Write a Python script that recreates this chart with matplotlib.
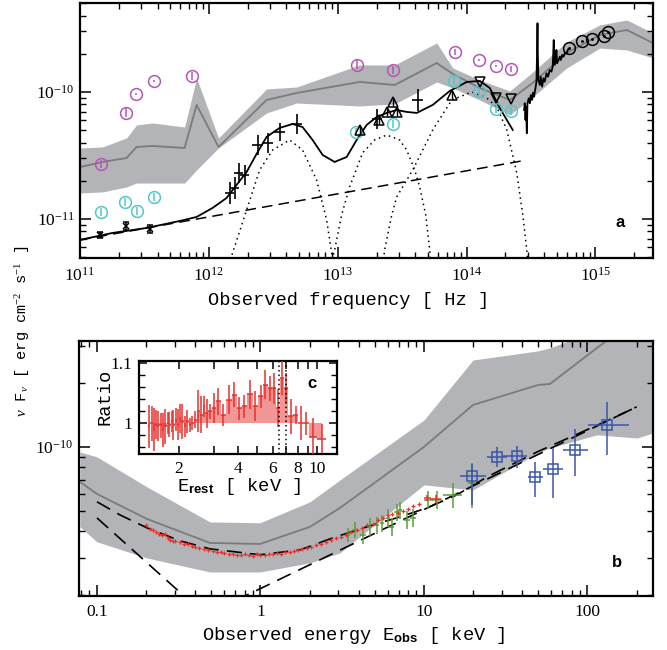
import numpy as np
import matplotlib
matplotlib.use('Agg')
import matplotlib.pyplot as plt
from matplotlib.ticker import LogLocator, FixedLocator, NullFormatter, FuncFormatter, MultipleLocator

plt.rcParams['font.family'] = 'Liberation Serif'
plt.rcParams['mathtext.fontset'] = 'custom'
plt.rcParams['mathtext.rm'] = 'Liberation Serif'
plt.rcParams['mathtext.it'] = 'Liberation Serif:italic'
plt.rcParams['mathtext.bf'] = 'Liberation Sans:bold'

# ---------------- panel a : radio to UV (log10 values) ----------------
band_a_lognu = [11.0, 11.175, 11.361, 11.439, 11.563, 11.812, 11.905, 12.075, 12.448, 12.681, 13.170,
                13.442, 13.768, 13.893, 14.102, 14.335, 14.513, 14.777, 15.034, 15.243, 15.445]
band_a_mid = [-10.591, -10.551, -10.520, -10.433, -10.425, -10.441, -10.102, -10.433, -10.063, -10.008, -9.921,
              -9.945, -9.772, -9.858, -9.969, -10.063, -9.929, -9.693, -9.551, -9.512, -9.614]
band_a_hi = [-10.441, -10.433, -10.362, -10.260, -10.244, -10.276, -9.890, -10.362, -9.976, -9.961, -9.787,
             -9.787, -9.614, -9.811, -9.906, -9.992, -9.843, -9.606, -9.472, -9.433, -9.535]
band_a_lo = [-10.795, -10.787, -10.748, -10.717, -10.717, -10.717, -10.614, -10.441, -10.165, -10.087, -10.110,
             -10.094, -9.921, -9.969, -10.063, -10.181, -10.039, -9.811, -9.654, -9.669, -9.732]

mag_lognu = [11.167, 11.361, 11.431, 11.571, 11.873, 13.147, 13.426, 13.908, 14.094, 14.226, 14.342]
mag_logf = [-10.567, -10.165, -10.016, -9.913, -9.874, -9.787, -9.827, -9.685, -9.748, -9.795, -9.819]
mag_err = [0.03, 0.035, 0.01, 0.01, 0.035, 0.035, 0.035, 0.025, 0.01, 0.01, 0.025]

cyan_lognu = [11.167, 11.353, 11.439, 11.578, 13.139, 13.426, 13.900, 14.094, 14.226, 14.342]
cyan_logf = [-10.945, -10.866, -10.937, -10.827, -10.315, -10.252, -9.913, -9.992, -10.134, -10.150]
cyan_err = [0.035, 0.035, 0.035, 0.035, 0.03, 0.035, 0.035, 0.035, 0.035, 0.035]

radio_lognu = [11.152, 11.354, 11.540]
radio_logf = [-11.126, -11.055, -11.079]
radio_err = [0.025, 0.03, 0.035]

ir_lognu = [12.161, 12.200, 12.231, 12.277, 12.378, 12.456, 12.549, 12.681, 13.302, 13.620]
ir_logf = [-10.795, -10.756, -10.638, -10.654, -10.417, -10.402, -10.315, -10.252, -10.213, -10.063]
ir_yerr = [0.09, 0.09, 0.08, 0.08, 0.08, 0.08, 0.07, 0.08, 0.08, 0.09]
ir_xerr = [0.035, 0.035, 0.035, 0.035, 0.04, 0.04, 0.04, 0.04, 0.04, 0.04]

up_lognu = [13.170, 13.318, 13.380, 13.426, 13.458, 13.885]
up_logf = [-10.299, -10.220, -10.157, -10.079, -10.157, -10.024]
down_lognu = [14.102, 14.226, 14.342]
down_logf = [-9.921, -10.047, -10.055]
uv_lognu = [14.793, 14.894, 14.971, 15.065, 15.096]
uv_logf = [-9.654, -9.598, -9.583, -9.559, -9.528]

spec_lognu = [14.446, 14.451, 14.457, 14.461, 14.467, 14.472, 14.482, 14.490, 14.498, 14.508, 14.516,
              14.523, 14.534, 14.542, 14.547, 14.550, 14.552, 14.557, 14.568, 14.575, 14.586, 14.596,
              14.606, 14.620, 14.632, 14.645, 14.658, 14.668, 14.676, 14.682, 14.690, 14.697, 14.702,
              14.713, 14.723, 14.731, 14.741, 14.752, 14.762, 14.775, 14.787, 14.800]
spec_logf = [-10.142, -10.089, -10.220, -10.115, -10.325, -10.089, -10.050, -10.089, -10.024, -10.063, -10.005,
             -10.037, -9.971, -9.919, -9.669, -9.459, -9.669, -9.906, -9.945, -9.880, -9.958, -9.892,
             -9.919, -9.853, -9.880, -9.827, -9.840, -9.801, -9.591, -9.787, -9.748, -9.669, -9.774,
             -9.748, -9.722, -9.748, -9.709, -9.722, -9.691, -9.696, -9.664, -9.656]

model_a_lognu = [11.0, 11.252, 11.516, 11.773, 11.905, 12.029, 12.137, 12.215, 12.293, 12.370, 12.448, 12.549,
                 12.650, 12.727, 12.805, 12.883, 12.976, 13.069, 13.147, 13.224, 13.302, 13.380, 13.457,
                 13.535, 13.613, 13.737, 13.869, 14.001, 14.102, 14.180, 14.257, 14.358]
model_a_logf = [-11.165, -11.110, -11.071, -11.016, -10.984, -10.913, -10.835, -10.732, -10.630, -10.488, -10.354,
                -10.283, -10.252, -10.276, -10.378, -10.496, -10.551, -10.512, -10.378, -10.260, -10.197,
                -10.165, -10.142, -10.157, -10.165, -10.102, -9.992, -9.921, -9.913, -9.969, -10.126, -10.299]
pl_a_lognu = [11.0, 14.428]
pl_a_logf = [-11.165, -10.543]
bump1_lognu = [12.153, 12.184, 12.293, 12.394, 12.495, 12.627, 12.727, 12.836, 12.914, 12.953, 12.968]
bump1_logf = [-11.362, -11.268, -10.929, -10.614, -10.457, -10.378, -10.457, -10.693, -11.008, -11.268, -11.362]
bump2_lognu = [12.945, 12.976, 13.030, 13.092, 13.193, 13.286, 13.380, 13.481, 13.535, 13.597, 13.636,
               13.683, 13.714, 13.721]
bump2_logf = [-11.362, -11.244, -10.969, -10.748, -10.480, -10.378, -10.339, -10.378, -10.457, -10.614, -10.748,
              -10.969, -11.244, -11.362]
bump3_lognu = [13.349, 13.364, 13.419, 13.457, 13.582, 13.737, 13.885, 14.040, 14.156, 14.234, 14.312,
               14.389, 14.436, 14.467, 14.475]
bump3_logf = [-11.362, -11.244, -10.969, -10.827, -10.614, -10.299, -10.063, -10.000, -10.047, -10.118, -10.299,
              -10.638, -10.969, -11.244, -11.362]

# ---------------- panel b : X-rays ----------------
band_b_loge = [-1.104, -1.0, -0.694, -0.309, -0.003, 0.303, 0.486, 1.0, 1.300, 1.697, 1.771, 2.058, 2.303, 2.401]
band_b_mid = [-10.165, -10.222, -10.340, -10.453, -10.458, -10.377, -10.288, -10.0, -9.802, -9.708, -9.703,
              -9.533, -9.392, -9.335]
band_b_hi = [-10.024, -10.047, -10.189, -10.354, -10.358, -10.259, -10.156, -9.873, -9.590, -9.547, -9.533,
             -9.448, -9.307, -9.259]
band_b_lo = [-10.377, -10.448, -10.524, -10.590, -10.590, -10.547, -10.500, -10.179, -10.203, -10.028, -10.005,
             -9.943, -9.958, -9.934]

model_b_loge = [-1.0, -0.859, -0.694, -0.492, -0.309, -0.003, 0.242, 0.443, 0.651, 0.853, 1.018, 1.202, 1.385,
                1.691, 2.076, 2.303]
model_b_logf = [-10.259, -10.321, -10.382, -10.443, -10.481, -10.509, -10.486, -10.429, -10.377, -10.330,
                -10.288, -10.226, -10.142, -10.024, -9.892, -9.811]
soft_loge = [-1.0, -0.4]
soft_logf = [-10.335, -10.750]
pl_b_loge = [-0.155, 2.301]
pl_b_logf = [-10.726, -9.811]

red_e = [0.20, 0.21, 0.22, 0.23, 0.24, 0.25, 0.26, 0.27, 0.28, 0.29, 0.30, 0.32, 0.34, 0.36, 0.38, 0.40,
         0.42, 0.45, 0.48, 0.51, 0.54, 0.57, 0.60, 0.64, 0.68, 0.72, 0.76, 0.80, 0.85, 0.90, 0.95, 1.00,
         1.06, 1.12, 1.19, 1.26, 1.34, 1.42, 1.51, 1.60, 1.70, 1.80, 1.92, 2.05, 2.20, 2.35, 2.50, 2.70,
         2.90, 3.10, 3.35, 3.60, 3.90, 4.20, 4.50, 4.85, 5.20, 5.60, 6.00, 6.40, 6.90, 7.40, 8.00, 8.60, 9.30]
red_f = [4.30, 4.10, 4.05, 3.95, 3.90, 3.85, 3.90, 3.70, 3.62, 3.60, 3.58, 3.55, 3.50, 3.48, 3.40, 3.38,
         3.33, 3.30, 3.26, 3.24, 3.20, 3.18, 3.15, 3.12, 3.13, 3.10, 3.08, 3.12, 3.09, 3.06, 3.11, 3.10,
         3.08, 3.13, 3.12, 3.15, 3.14, 3.18, 3.20, 3.22, 3.27, 3.30, 3.33, 3.38, 3.45, 3.50, 3.55, 3.62,
         3.70, 3.75, 3.85, 3.95, 4.05, 4.15, 4.30, 4.35, 4.50, 4.60, 4.75, 4.80, 4.90, 5.00, 5.10, 5.25, 5.40]
red_hi_e = [10.5, 11.8]
red_hi_f = [5.75, 5.70]

green_e = [3.43, 3.78, 4.24, 4.68, 5.16, 5.54, 6.03, 6.37, 6.84, 7.13, 7.87, 8.57, 10.6, 12.0, 15.0, 19.7]
green_f = [3.85, 4.06, 3.85, 4.20, 4.29, 4.38, 4.62, 4.20, 4.93, 5.04, 4.53, 4.62, 5.62, 5.62, 5.94, 6.76]
green_ferr = [0.30, 0.35, 0.35, 0.40, 0.40, 0.40, 0.45, 0.40, 0.45, 0.45, 0.45, 0.45, 0.55, 0.55, 0.80, 1.60]
green_eerr = [0.12, 0.13, 0.15, 0.16, 0.18, 0.19, 0.21, 0.22, 0.24, 0.25, 0.30, 0.35, 0.6, 0.8, 2.0, 1.0]

blue_e = [19.7, 27.9, 37.1, 47.8, 61.5, 84.0, 131.5]
blue_elo = [16.6, 24.3, 30.4, 43.3, 53.5, 70.8, 100.7]
blue_ehi = [23.9, 32.2, 42.7, 53.5, 70.8, 100.7, 179.5]
blue_f = [7.30, 8.97, 9.08, 7.21, 7.87, 9.68, 12.71]
blue_flo = [5.32, 8.06, 7.96, 5.81, 5.74, 7.29, 9.16]
blue_fhi = [8.32, 10.0, 10.1, 8.49, 9.89, 12.16, 16.29]

# ---------------- panel c : iron line ratio ----------------
ratio_e = [1.413, 1.453, 1.493, 1.529, 1.570, 1.614, 1.664, 1.704, 1.752, 1.786, 1.837, 1.871, 1.924, 1.970,
           2.024, 2.079, 2.145, 2.204, 2.275, 2.337, 2.411, 2.506, 2.586, 2.679, 2.764, 2.873, 3.022, 3.167,
           3.357, 3.601, 3.804, 4.049, 4.292, 4.585, 4.881, 5.195, 5.483, 5.794, 6.071, 6.362, 6.640, 6.957,
           7.379, 7.824, 8.323, 8.825, 9.540, 10.60]
ratio_val = [0.9939, 0.9994, 0.9883, 0.9967, 0.9939, 0.9956, 0.9883, 0.9939, 0.9994, 0.9967, 1.0022, 0.9956,
             1.0050, 0.9967, 1.0078, 1.0022, 0.9939, 1.0022, 0.9967, 0.9994, 1.0050, 1.0189, 1.0133, 1.0272,
             1.0161, 1.0189, 1.0244, 1.0356, 1.0133, 1.0383, 1.0467, 1.0244, 1.0272, 1.0478, 1.0272, 1.0439,
             1.0633, 1.0578, 1.0578, 1.0244, 1.0744, 1.0578, 1.0106, 1.0133, 0.9994, 0.9994, 0.9772, 0.9733]
ratio_err = [0.036, 0.029, 0.036, 0.024, 0.025, 0.021, 0.028, 0.029, 0.018, 0.021, 0.017, 0.025, 0.019, 0.026,
             0.024, 0.029, 0.017, 0.019, 0.012, 0.012, 0.014, 0.035, 0.031, 0.018, 0.024, 0.012, 0.025, 0.022,
             0.018, 0.024, 0.021, 0.019, 0.019, 0.024, 0.025, 0.019, 0.024, 0.021, 0.026, 0.032, 0.028, 0.025,
             0.029, 0.015, 0.028, 0.019, 0.031, 0.024]
fe_lines = [6.4, 6.97]

# ---------------- colours ----------------
BAND = '#b3b4b7'
MEAN = '#7b7b7b'
MAG = '#b457b4'
CYAN = '#55c6c8'
RED = '#e8302c'
GREEN = '#5b9c3a'
BLUE = '#3a56a8'
PINK = '#f08a8a'

MONO = 'Liberation Mono'


def p10(a):
    return 10 ** np.asarray(a, dtype=float)


def dex_err(logv, d):
    v = p10(logv)
    d = np.asarray(d, dtype=float)
    return [v * (1 - 10 ** -d), v * (10 ** d - 1)]


def style_axes(ax, labelsize=12.5):
    ax.tick_params(which='both', direction='in', top=True, right=True, labelsize=labelsize)
    ax.tick_params(which='major', length=8, width=1.1, pad=6)
    ax.tick_params(axis='y', which='major', pad=4)
    ax.tick_params(which='minor', length=4, width=1.0)
    for s in ax.spines.values():
        s.set_linewidth(1.6)


fig = plt.figure(figsize=(6.67, 6.5), dpi=100)

# ================= panel a =================
ax1 = fig.add_axes([0.1199, 0.6031, 0.859, 0.3923])
ax1.set_xscale('log')
ax1.set_yscale('log')
ax1.fill_between(p10(band_a_lognu), p10(band_a_lo), p10(band_a_hi), color=BAND, lw=0, zorder=1)
ax1.plot(p10(band_a_lognu), p10(band_a_mid), color=MEAN, lw=1.3, zorder=2)

ax1.plot(p10(pl_a_lognu), p10(pl_a_logf), color='k', lw=1.1, ls=(0, (7, 4)), zorder=3)
for bx, by in [(bump1_lognu, bump1_logf), (bump2_lognu, bump2_logf), (bump3_lognu, bump3_logf)]:
    ax1.plot(p10(bx), p10(by), color='k', lw=1.1, ls=(0, (1, 2.5)), zorder=3)
ax1.plot(p10(model_a_lognu), p10(model_a_logf), color='k', lw=1.3, zorder=4)
ax1.plot(p10(spec_lognu), p10(spec_logf), color='k', lw=1.3, zorder=4)

ax1.errorbar(p10(mag_lognu), p10(mag_logf), yerr=dex_err(mag_logf, mag_err), fmt='o', ms=8.5,
             mfc='none', mec=MAG, mew=1.1, ecolor=MAG, elinewidth=1.1, capsize=0, zorder=5)
ax1.errorbar(p10(cyan_lognu), p10(cyan_logf), yerr=dex_err(cyan_logf, cyan_err), fmt='o', ms=8.5,
             mfc='none', mec=CYAN, mew=1.1, ecolor=CYAN, elinewidth=1.1, capsize=0, zorder=5)
ax1.errorbar(p10(radio_lognu), p10(radio_logf), yerr=dex_err(radio_logf, radio_err), fmt='x', ms=4,
             color='k', mew=1.1, elinewidth=1.1, capsize=2.5, zorder=6)
ax1.errorbar(p10(ir_lognu), p10(ir_logf), yerr=dex_err(ir_logf, ir_yerr), xerr=dex_err(ir_lognu, ir_xerr),
             fmt='none', ecolor='k', elinewidth=1.2, capsize=0, zorder=6)
ax1.errorbar(p10(up_lognu), p10(up_logf), yerr=dex_err(up_logf, [0.03] * len(up_logf)), fmt='^', ms=7,
             mfc='none', mec='k', mew=1.1, ecolor='k', elinewidth=1.0, capsize=0, zorder=6)
ax1.plot(p10(down_lognu), p10(down_logf), 'v', ms=7, mfc='none', mec='k', mew=1.1, zorder=6)
ax1.plot(p10(uv_lognu), p10(uv_logf), 'o', ms=8.5, mfc='none', mec='k', mew=1.1, zorder=6)
ax1.plot(p10(uv_lognu), p10(uv_logf), '.', ms=2, color='k', zorder=6)

ax1.set_xlim(1e11, 2.79e15)
ax1.set_ylim(4.93e-12, 5.02e-10)
ax1.xaxis.set_major_locator(FixedLocator([1e11, 1e12, 1e13, 1e14, 1e15]))
ax1.yaxis.set_major_locator(FixedLocator([1e-11, 1e-10]))
ax1.xaxis.set_minor_locator(LogLocator(base=10, subs=np.arange(2, 10), numticks=30))
ax1.yaxis.set_minor_locator(LogLocator(base=10, subs=np.arange(2, 10), numticks=30))
ax1.xaxis.set_minor_formatter(NullFormatter())
ax1.yaxis.set_minor_formatter(NullFormatter())
style_axes(ax1)
ax1.text(0.943, 0.14, 'a', transform=ax1.transAxes, fontsize=12, fontweight='bold',
         family='Liberation Sans', ha='center', va='center')
fig.text(0.522, 0.538, 'Observed frequency [ Hz ]', family=MONO, fontsize=13.5, ha='center', va='center')

# ================= panel b =================
ax2 = fig.add_axes([0.1184, 0.0831, 0.8606, 0.3923])
ax2.set_xscale('log')
ax2.set_yscale('log')
ax2.fill_between(p10(band_b_loge), p10(band_b_lo), p10(band_b_hi), color=BAND, lw=0, zorder=1)
ax2.plot(p10(band_b_loge), p10(band_b_mid), color=MEAN, lw=1.3, zorder=2)

ax2.plot(p10(soft_loge), p10(soft_logf), color='k', lw=1.2, ls=(0, (9, 5)), zorder=3)
ax2.plot(p10(pl_b_loge), p10(pl_b_logf), color='k', lw=1.2, ls=(0, (9, 5)), zorder=3)
ax2.plot(p10(model_b_loge), p10(model_b_logf), color='k', lw=1.2, ls=(0, (9, 5)), zorder=3)

ax2.plot(red_e, np.array(red_f) * 1e-11, '+', ms=3.5, mew=0.9, color=RED, zorder=5)
ax2.errorbar(red_hi_e, np.array(red_hi_f) * 1e-11, xerr=[[0.5, 0.9], [0.5, 0.9]],
             yerr=[[0.2e-11, 0.25e-11], [0.2e-11, 0.25e-11]], fmt='none', ecolor=RED, elinewidth=1.1, zorder=5)
ax2.errorbar(green_e, np.array(green_f) * 1e-11, xerr=green_eerr, yerr=np.array(green_ferr) * 1e-11,
             fmt='none', ecolor=GREEN, elinewidth=1.1, capsize=0, zorder=4)
bf = np.array(blue_f) * 1e-11
ax2.errorbar(blue_e, bf,
             xerr=[np.array(blue_e) - np.array(blue_elo), np.array(blue_ehi) - np.array(blue_e)],
             yerr=[bf - np.array(blue_flo) * 1e-11, np.array(blue_fhi) * 1e-11 - bf],
             fmt='s', ms=6.5, mfc='none', mec=BLUE, mew=1.1, ecolor=BLUE, elinewidth=1.1, capsize=0, zorder=6)

ax2.set_xlim(0.0776, 251.6)
ax2.set_ylim(1.98e-11, 3.16e-10)
ax2.xaxis.set_major_locator(FixedLocator([0.1, 1, 10, 100]))
ax2.yaxis.set_major_locator(FixedLocator([1e-10]))
ax2.xaxis.set_minor_locator(LogLocator(base=10, subs=np.arange(2, 10), numticks=30))
ax2.yaxis.set_minor_locator(LogLocator(base=10, subs=np.arange(2, 10), numticks=30))
ax2.xaxis.set_major_formatter(FuncFormatter(lambda v, p: f'{v:g}'))
ax2.xaxis.set_minor_formatter(NullFormatter())
ax2.yaxis.set_minor_formatter(NullFormatter())
style_axes(ax2)
ax2.text(0.937, 0.133, 'b', transform=ax2.transAxes, fontsize=12, fontweight='bold',
         family='Liberation Sans', ha='center', va='center')
fig.text(0.531, 0.023, r'Observed energy E$_{\mathbf{obs}}$ [ keV ]', family=MONO, fontsize=13.5,
         ha='center', va='center')

fig.text(0.034, 0.49, r'$\nu$ F$_\nu$ [ erg cm$^{-2}$ s$^{-1}$ ]', family=MONO, fontsize=11,
         rotation=90, ha='center', va='center')

# ================= panel c (inset) =================
ax3 = fig.add_axes([0.2084, 0.3015, 0.2969, 0.1431])
ax3.set_xscale('log')
ax3.fill_between(ratio_e, 1.0, ratio_val, step='mid', color=PINK, lw=0, alpha=0.9, zorder=1)
re = np.array(ratio_e)
edges = np.sqrt(re[1:] * re[:-1])
lo_edge = np.concatenate([[re[0] ** 2 / edges[0]], edges])
hi_edge = np.concatenate([edges, [re[-1] ** 2 / edges[-1]]])
ax3.errorbar(re, ratio_val, yerr=ratio_err, xerr=[re - lo_edge, hi_edge - re], fmt='none',
             ecolor=RED, elinewidth=1.1, capsize=0, zorder=3)
for fe in fe_lines:
    ax3.axvline(fe, color='k', lw=1.1, ls=(0, (1, 2)), zorder=4)
ax3.set_xlim(1.253, 12.67)
ax3.set_ylim(0.948, 1.103)
ax3.xaxis.set_major_locator(FixedLocator([2, 3, 4, 5, 6, 7, 8, 9, 10]))
ax3.xaxis.set_major_formatter(FuncFormatter(lambda v, p: f'{v:g}' if v in (2, 4, 6, 8, 10) else ''))
ax3.xaxis.set_minor_locator(FixedLocator([]))
ax3.yaxis.set_major_locator(FixedLocator([1.0, 1.1]))
ax3.yaxis.set_major_formatter(FuncFormatter(lambda v, p: f'{v:g}'))
ax3.yaxis.set_minor_locator(MultipleLocator(0.02))
style_axes(ax3)
ax3.tick_params(which='major', length=6, pad=5)
ax3.tick_params(which='minor', length=4)
ax3.text(0.874, 0.76, 'c', transform=ax3.transAxes, fontsize=12, fontweight='bold',
         family='Liberation Sans', ha='center', va='center')
fig.text(0.358, 0.251, r'E$_{\mathbf{rest}}$ [ keV ]', family=MONO, fontsize=13.5, ha='center', va='center')
fig.text(0.157, 0.389, 'Ratio', family=MONO, fontsize=13.5, rotation=90, ha='center', va='center')

fig.savefig('out.png', dpi=100)
